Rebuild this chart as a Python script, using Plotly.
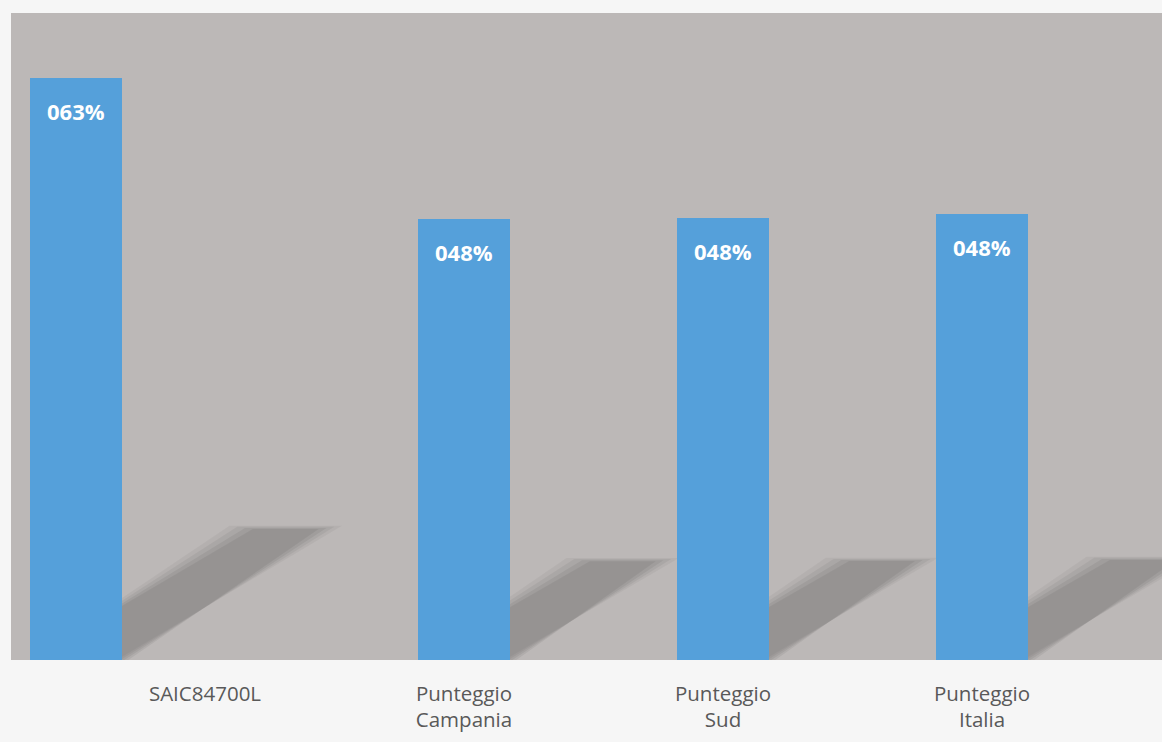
import plotly.graph_objects as go

# ---- data ----
categories = ["SAIC84700L", "Punteggio<br>Campania", "Punteggio<br>Sud", "Punteggio<br>Italia"]
values = [0.630, 0.477, 0.478, 0.483]
value_labels = ["063%", "048%", "048%", "048%"]

# ---- layout helpers (positions / styles) ----
bar_width = 0.355
bar_offsets = [-0.676, -0.178, -0.178, -0.178]
bar_color = "#55A0DA"
plot_bg = "#BCB8B7"

fig = go.Figure()
fig.add_trace(go.Bar(
    x=list(range(len(categories))),
    y=values,
    width=[bar_width] * len(values),
    offset=bar_offsets,
    marker=dict(color=bar_color, line=dict(width=0)),
    hoverinfo="skip",
))

# value labels inside bars, near the top
for i, (v, t) in enumerate(zip(values, value_labels)):
    cx = i + bar_offsets[i] + bar_width / 2
    fig.add_annotation(
        x=cx, y=v, xref="x", yref="y", text=f"<b>{t}</b>",
        showarrow=False, yanchor="middle", xanchor="center", yshift=-33,
        font=dict(family="Open Sans", size=22, color="white"),
    )

# decorative skewed shadows behind each bar (derived from the bar values)
layers = [(-0.04, 0.04), (-0.01, 0.05), (0.02, 0.06), (0.05, 0.06)]
for i, v in enumerate(values):
    L = i + bar_offsets[i]
    R = L + bar_width
    dx = 1.286 * v
    ys = 0.228 * v
    for s, op in layers:
        path = (f"M {L} 0 L {R + s*0.5} 0 "
                f"L {R + dx - s} {ys - s*0.04} L {L + dx + s} {ys - s*0.04} Z")
        fig.add_shape(type="path", path=path, xref="x", yref="y",
                      fillcolor=f"rgba(0,0,0,{op})", line=dict(width=0),
                      layer="below")

fig.update_layout(
    width=1162, height=742,
    margin=dict(l=11, r=0, t=13, b=82),
    paper_bgcolor="#F6F6F6",
    plot_bgcolor=plot_bg,
    showlegend=False,
    bargap=0,
    xaxis=dict(
        range=[-0.749, 3.695],
        tickmode="array",
        tickvals=list(range(len(categories))),
        ticktext=categories,
        ticks="outside", ticklen=15, tickcolor="rgba(0,0,0,0)",
        showgrid=False, zeroline=False, showline=False,
        tickfont=dict(family="Open Sans", size=20.5, color="#595959"),
    ),
    yaxis=dict(
        range=[0, 0.70],
        showticklabels=False, showgrid=False, zeroline=False, showline=False,
    ),
)

fig.write_html(
    "out.html",
    config={"displayModeBar": False},
    post_script="document.body.style.margin='0';document.body.style.overflow='hidden';",
)
